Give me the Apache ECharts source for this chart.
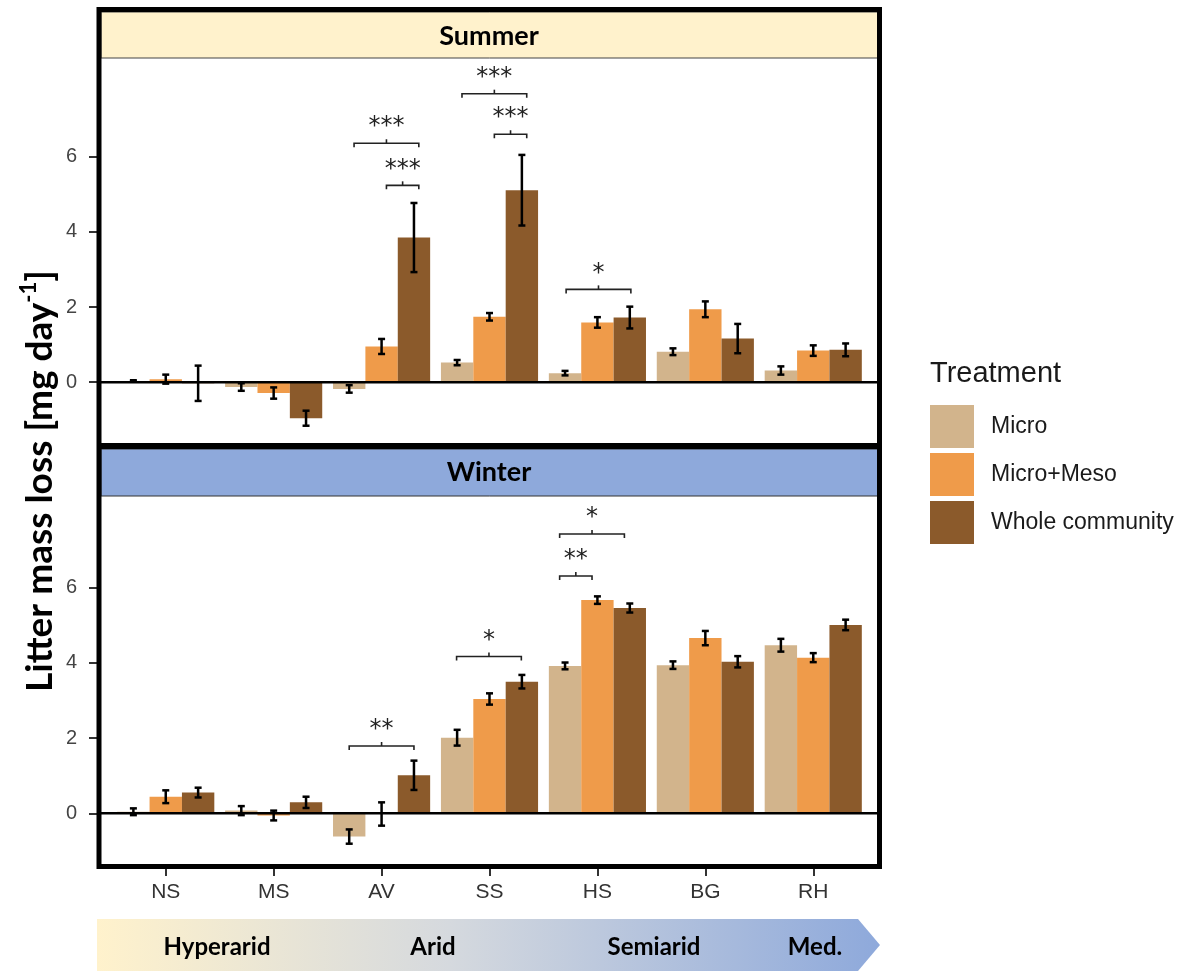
<!DOCTYPE html>
<html>
<head>
<meta charset="utf-8">
<script src="https://cdn.jsdelivr.net/npm/echarts@6/dist/echarts.min.js"></script>
<style>html,body{margin:0;padding:0;background:#fff}#main{width:1195px;height:971px}</style>
</head>
<body>
<div id="main"></div>
<script>
var sites = ['NS', 'MS', 'AV', 'SS', 'HS', 'BG', 'RH'];
var treatments = ['Micro', 'Micro+Meso', 'Whole community'];
var colors = ['#D2B48C', '#EF9B4A', '#8B5A2B'];

// summer: mean and SE per site
var summerMicro = [0.03, -0.13, -0.18, 0.52, 0.24, 0.81, 0.31];
var summerMicroSe = [0.02, 0.10, 0.10, 0.07, 0.06, 0.09, 0.11];
var summerMeso = [0.08, -0.29, 0.95, 1.74, 1.59, 1.94, 0.84];
var summerMesoSe = [0.12, 0.15, 0.20, 0.10, 0.14, 0.21, 0.14];
var summerWhole = [-0.03, -0.96, 3.85, 5.11, 1.72, 1.16, 0.86];
var summerWholeSe = [0.47, 0.20, 0.92, 0.94, 0.29, 0.39, 0.17];

// winter
var winterMicro = [0.04, 0.07, -0.62, 2.01, 3.92, 3.94, 4.47];
var winterMicroSe = [0.09, 0.12, 0.19, 0.21, 0.09, 0.10, 0.17];
var winterMeso = [0.44, -0.06, -0.02, 3.04, 5.67, 4.66, 4.14];
var winterMesoSe = [0.17, 0.13, 0.31, 0.15, 0.10, 0.19, 0.12];
var winterWhole = [0.55, 0.29, 1.01, 3.50, 5.46, 4.03, 5.01];
var winterWholeSe = [0.13, 0.15, 0.39, 0.18, 0.12, 0.15, 0.14];

// brackets: [site, from treatment, to treatment, height, label, shift]
var summerSig = [[2, 0, 2, 6.36, '***', 0.045], [2, 1, 2, 5.24, '***', 0.045],
                 [3, 0, 2, 7.68, '***', 0.045], [3, 1, 2, 6.60, '***', 0.045],
                 [4, 0, 2, 2.47, '*', 0.01]];
var winterSig = [[2, 0, 2, 1.79, '**', 0], [3, 0, 2, 4.17, '*', -0.005],
                 [4, 0, 2, 7.43, '*', -0.05], [4, 0, 1, 6.31, '**', -0.05]];

var yTicks = [0, 2, 4, 6];
var zones = ['Hyperarid', 'Arid', 'Semiarid', 'Med.'];
var zoneX = [217, 433, 654, 815];

var myChart = echarts.init(document.getElementById('main'));

function rows(mean, se) {
    return mean.map(function (v, i) { return [i, v, se[i]]; });
}

function barItem(t) {
    return function (params, api) {
        var i = api.value(0), v = api.value(1), se = api.value(2);
        var xc = i + (t - 1) * 0.3;
        var a = api.coord([xc - 0.15, 0]);
        var b = api.coord([xc + 0.15, v]);
        var top = api.coord([xc, v + se]);
        var bot = api.coord([xc, v - se]);
        var cap = 3.5;
        var ln = { stroke: '#000', lineWidth: 2.5 };
        return {
            type: 'group',
            children: [
                { type: 'rect', shape: { x: a[0], y: Math.min(a[1], b[1]), width: b[0] - a[0], height: Math.abs(a[1] - b[1]) }, style: { fill: colors[t] } },
                { type: 'line', z2: 5, shape: { x1: top[0], y1: top[1], x2: bot[0], y2: bot[1] }, style: ln },
                { type: 'line', z2: 5, shape: { x1: top[0] - cap, y1: top[1], x2: top[0] + cap, y2: top[1] }, style: ln },
                { type: 'line', z2: 5, shape: { x1: bot[0] - cap, y1: bot[1], x2: bot[0] + cap, y2: bot[1] }, style: ln }
            ]
        };
    };
}

function sigItem(list) {
    return function (params, api) {
        var s = list[params.dataIndex];
        var x1 = s[0] + (s[1] - 1) * 0.3 + s[5];
        var x2 = s[0] + (s[2] - 1) * 0.3 + s[5];
        var p1 = api.coord([x1, s[3]]);
        var p2 = api.coord([x2, s[3]]);
        var xm = (p1[0] + p2[0]) / 2;
        var st = { stroke: '#222', lineWidth: 1.6, fill: null };
        return {
            type: 'group',
            children: [
                { type: 'polyline', shape: { points: [[p1[0], p1[1] + 4], [p1[0], p1[1]], [p2[0], p2[1]], [p2[0], p2[1] + 4]] }, style: st },
                { type: 'line', shape: { x1: xm, y1: p1[1], x2: xm, y2: p1[1] - 4 }, style: st },
                { type: 'text', x: xm, y: p1[1] - 4, style: { text: s[4], fill: '#222', font: '24px "DejaVu Sans"', align: 'center', verticalAlign: 'bottom' } }
            ]
        };
    };
}

function zeroLine(params, api) {
    var cs = params.coordSys;
    var y = api.coord([0, 0])[1];
    return { type: 'line', shape: { x1: cs.x, y1: y, x2: cs.x + cs.width, y2: y }, style: { stroke: '#000', lineWidth: 2.5 } };
}

var summerData = [rows(summerMicro, summerMicroSe), rows(summerMeso, summerMesoSe), rows(summerWhole, summerWholeSe)];
var winterData = [rows(winterMicro, winterMicroSe), rows(winterMeso, winterMesoSe), rows(winterWhole, winterWholeSe)];

var series = [];
[summerData, winterData].forEach(function (panel, g) {
    panel.forEach(function (d, t) {
        series.push({
            name: treatments[t], type: 'custom', xAxisIndex: g, yAxisIndex: g,
            itemStyle: { color: colors[t] }, renderItem: barItem(t), data: d, z: 2
        });
    });
    series.push({ type: 'custom', xAxisIndex: g, yAxisIndex: g, renderItem: zeroLine, data: [[0, 0]], z: 3, silent: true });
    var sig = g === 0 ? summerSig : winterSig;
    series.push({
        type: 'custom', xAxisIndex: g, yAxisIndex: g, renderItem: sigItem(sig), clip: false, z: 4, silent: true,
        data: sig.map(function (s) { return [s[0], s[3]]; })
    });
});

function xAxis(g, show) {
    return {
        type: 'value', gridIndex: g, min: -0.6, max: 6.6, position: 'bottom',
        axisLine: { show: false, onZero: false }, splitLine: { show: false },
        axisTick: { show: show, customValues: [0, 1, 2, 3, 4, 5, 6], length: 12, lineStyle: { color: '#333', width: 2 } },
        axisLabel: {
            show: show, customValues: [0, 1, 2, 3, 4, 5, 6], margin: 18,
            formatter: function (v) { return sites[Math.round(v)]; },
            fontSize: 21, color: '#333', fontFamily: 'Liberation Sans Narrow, Arial'
        }
    };
}

function yAxis(g, min, max) {
    return {
        type: 'value', gridIndex: g, min: min, max: max, position: 'left',
        axisLine: { show: false, onZero: false }, splitLine: { show: false },
        axisTick: { show: true, customValues: yTicks, length: 12, lineStyle: { color: '#333', width: 2 } },
        axisLabel: { customValues: yTicks, margin: 24, fontSize: 20, color: '#444', fontFamily: 'Arial' }
    };
}

var gfont = 'Lato';

myChart.setOption({
    animation: false,
    backgroundColor: '#fff',
    grid: [
        { left: 101, top: 58, width: 777, height: 385 },
        { left: 101, top: 496, width: 777, height: 368 }
    ],
    xAxis: [xAxis(0, false), xAxis(1, true)],
    yAxis: [yAxis(0, -1.62, 8.63), yAxis(1, -1.35, 8.44)],
    legend: {
        data: treatments, orient: 'vertical', left: 930, top: 405, padding: 0,
        icon: 'rect', itemWidth: 44, itemHeight: 43, itemGap: 5,
        textStyle: { fontSize: 23, color: '#1a1a1a', fontFamily: 'Arial', padding: [0, 0, 0, 12] }
    },
    graphic: [
        // strips
        { type: 'rect', shape: { x: 101, y: 12, width: 777, height: 46 }, style: { fill: '#FFF2CC', stroke: '#444', lineWidth: 1 } },
        { type: 'rect', shape: { x: 101, y: 449, width: 777, height: 47 }, style: { fill: '#8EA9DB', stroke: '#333', lineWidth: 1 } },
        { type: 'text', x: 489, y: 36, style: { text: 'Summer', font: 'bold 27px ' + gfont, fill: '#000', align: 'center', verticalAlign: 'middle' } },
        { type: 'text', x: 489, y: 472, style: { text: 'Winter', font: 'bold 27px ' + gfont, fill: '#000', align: 'center', verticalAlign: 'middle' } },
        // panel frame
        { type: 'rect', z: 10, shape: { x: 99, y: 9.5, width: 780.5, height: 857 }, style: { fill: null, stroke: '#000', lineWidth: 5 } },
        { type: 'rect', z: 10, shape: { x: 97, y: 443, width: 784, height: 6 }, style: { fill: '#000' } },
        // y title
        {
            type: 'text', x: 40, y: 481, rotation: Math.PI / 2,
            style: {
                text: '{a|Litter mass loss [mg day}{s|-1}{a|]}', align: 'center', verticalAlign: 'middle',
                rich: {
                    a: { fontSize: 37, fontWeight: 'bold', fontFamily: gfont, fill: '#000', lineHeight: 44 },
                    s: { fontSize: 22, fontWeight: 'bold', fontFamily: gfont, fill: '#000', verticalAlign: 'top' }
                }
            }
        },
        // legend title
        { type: 'text', x: 930, y: 374, style: { text: 'Treatment', font: '29px Arial', fill: '#1a1a1a', verticalAlign: 'middle' } },
        // climate arrow
        {
            type: 'polygon', shape: { points: [[97, 919], [858, 919], [880, 945], [858, 971], [97, 971]] },
            style: {
                fill: new echarts.graphic.LinearGradient(0, 0, 1, 0, [
                    { offset: 0, color: '#FFF2CC' }, { offset: 0.45, color: '#D5D9DE' }, { offset: 1, color: '#8EA9DB' }
                ])
            }
        }
    ].concat(zones.map(function (z, k) {
        return { type: 'text', x: zoneX[k], y: 947, style: { text: z, font: 'bold 24px ' + gfont, fill: '#000', align: 'center', verticalAlign: 'middle' } };
    })),
    series: series
});
</script>
</body>
</html>
